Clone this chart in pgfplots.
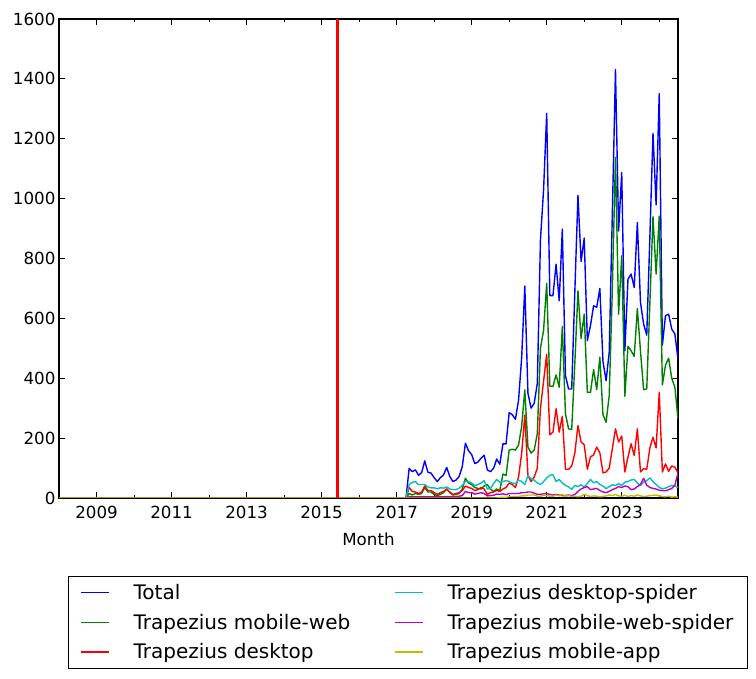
\documentclass[border=0pt]{standalone}
\usepackage{fontspec}
\setmainfont{DejaVu Sans}
\usepackage{pgfplots}
\usepackage{pgfplotstable}
\pgfplotsset{compat=1.18}
\definecolor{mplb}{rgb}{0,0,1}
\definecolor{mplg}{rgb}{0,0.5,0}
\definecolor{mplr}{rgb}{1,0,0}
\definecolor{mplc}{rgb}{0,0.75,0.75}
\definecolor{mplm}{rgb}{0.75,0,0.75}
\definecolor{mply}{rgb}{0.75,0.75,0}
% m = months after April 2017 (m=-111 is January 2008)
\pgfplotstableread{
m total mweb desk dspider mwspider app
-111 0 0 0 0 0 0
0 0 0 0 0 0 0
1 99 15 35 45 4 0
2 88 10 22 52 4 0
3 94 15 20 55 4 0
4 76 12 15 45 4 0
5 85 15 20 45 5 0
6 124 35 40 45 4 0
7 86 20 25 37 4 0
8 83 20 25 34 4 0
9 68 12 18 34 4 0
10 55 8 12 31 4 0
11 68 12 18 34 4 0
12 77 18 22 33 4 0
13 102 30 30 37 5 0
14 72 18 20 30 4 0
15 55 10 12 28 5 0
16 60 12 15 28 5 0
17 72 15 18 33 6 0
18 105 30 25 42 8 0
19 183 66 40 55 22 0
20 158 50 35 55 18 0
21 145 45 32 50 18 0
22 115 35 25 42 13 0
23 120 32 28 45 15 0
24 133 30 35 50 18 0
25 143 40 30 58 15 0
26 94 45 12 30 7 0
27 88 30 18 32 8 0
28 99 22 20 48 9 0
29 130 30 25 62 13 0
30 113 25 22 52 12 2
31 181 80 30 55 14 2
32 181 75 35 58 11 2
33 285 160 50 55 15 5
34 278 163 45 50 15 5
35 263 160 35 48 15 5
36 327 177 70 60 15 5
37 470 240 150 55 18 7
38 708 361 277 45 18 7
39 350 170 75 75 20 10
40 300 150 55 65 20 10
41 316 160 70 60 16 10
42 383 215 100 50 12 6
43 862 500 300 45 12 5
44 1029 560 390 55 14 10
45 1285 717 480 67 15 8
46 676 373 211 76 12 6
47 676 373 220 78 10 5
48 781 411 298 55 12 10
49 659 370 220 62 10 7
50 898 573 273 50 8 12
51 409 281 96 42 8 6
52 364 231 96 37 10 8
53 364 229 107 29 8 5
54 690 450 150 42 12 6
55 1011 692 242 38 22 4
56 790 533 187 44 30 6
57 868 614 178 37 35 12
58 526 353 96 48 38 8
59 576 353 137 62 28 5
60 642 429 144 51 30 7
61 637 362 170 55 32 6
62 700 470 151 45 25 4
63 456 278 84 40 20 5
64 392 253 87 31 18 7
65 487 342 100 38 22 10
66 950 700 165 44 28 8
67 1431 1137 231 42 32 12
68 892 614 187 48 38 7
69 1087 809 207 42 35 6
70 492 340 87 53 40 9
71 731 507 137 55 38 5
72 748 492 181 60 28 8
73 703 473 142 62 30 6
74 920 633 231 50 38 10
75 653 490 87 42 45 7
76 581 362 98 53 66 5
77 544 364 96 58 43 6
78 870 650 167 67 35 8
79 1218 940 203 55 32 9
80 979 748 167 45 30 10
81 1351 942 353 35 26 7
82 511 378 87 31 25 5
83 609 444 114 33 24 4
84 614 467 89 38 28 6
85 564 400 107 42 32 3
86 548 370 103 40 43 4
87 464 264 84 35 83 3
}\data
\begin{document}
\begin{tikzpicture}
\path[use as bounding box] (-59pt,-181pt) rectangle (697pt,498pt);
\begin{axis}[
  at={(0pt,0pt)}, anchor=south west,
  width=619pt, height=479pt, scale only axis,
  xmin=2008, xmax=2024.5, ymin=0, ymax=1600,
  xtick={2009,2011,2013,2015,2017,2019,2021,2023},
  xticklabels={2009,2011,2013,2015,2017,2019,2021,2023},
  minor xtick={2008,2010,2012,2014,2016,2018,2020,2022,2024},
  ytick={0,200,400,600,800,1000,1200,1400,1600},
  xtick pos=both, ytick pos=both,
  tick align=inside,
  major tick length=5.6pt, minor tick length=2.8pt,
  every tick/.style={black, line width=1pt},
  axis line style={line width=1.2pt},
  scaled ticks=false,
  /pgf/number format/assume math mode=true,
  /pgf/number format/1000 sep={},
  ticklabel style={font=\fontsize{16.7}{20}\selectfont},
  xticklabel style={yshift=-5pt},
  xlabel={Month},
  xlabel style={font=\fontsize{16.7}{20}\selectfont, yshift=-7pt},
  legend columns=2,
  legend cell align=left,
  legend image code/.code={\draw[mark repeat=2,mark phase=2,#1] plot coordinates {(0pt,0pt) (14pt,0pt) (28pt,0pt)};},
  legend style={
    at={(axis description cs:0.01454,-0.16284)}, anchor=north west,
    draw=black,
    font=\fontsize{20}{24}\selectfont,
    inner xsep=12pt, inner ysep=6pt,
    row sep=9pt,
    /tikz/every odd column/.append style={column sep=22pt},
    /tikz/every even column/.append style={column sep=42pt},
  },
]
\addlegendimage{color=mplb, line width=1.4pt}
\addlegendentry{Total}
\addlegendimage{color=mplc, line width=1.4pt}
\addlegendentry{Trapezius desktop-spider}
\addlegendimage{color=mplg, line width=1.4pt}
\addlegendentry{Trapezius mobile-web}
\addlegendimage{color=mplm, line width=1.4pt}
\addlegendentry{Trapezius mobile-web-spider}
\addlegendimage{color=mplr, line width=1.4pt}
\addlegendentry{Trapezius desktop}
\addlegendimage{color=mply, line width=1.4pt}
\addlegendentry{Trapezius mobile-app}
\addplot[forget plot, color=mplb, line width=1.4pt, line join=round] table[x expr=2017.25+\thisrow{m}/12, y=total] {\data};
\addplot[forget plot, color=mplg, line width=1.4pt, line join=round] table[x expr=2017.25+\thisrow{m}/12, y=mweb] {\data};
\addplot[forget plot, color=mplr, line width=1.4pt, line join=round] table[x expr=2017.25+\thisrow{m}/12, y=desk] {\data};
\addplot[forget plot, color=mplc, line width=1.4pt, line join=round] table[x expr=2017.25+\thisrow{m}/12, y=dspider] {\data};
\addplot[forget plot, color=mplm, line width=1.4pt, line join=round] table[x expr=2017.25+\thisrow{m}/12, y=mwspider] {\data};
\addplot[forget plot, color=mply, line width=1.4pt, line join=round] table[x expr=2017.25+\thisrow{m}/12, y=app] {\data};
\addplot[forget plot, color=mplr, line width=2.6pt] coordinates {(2015.4167,0) (2015.4167,1600)};
\end{axis}
\end{tikzpicture}
\end{document}
